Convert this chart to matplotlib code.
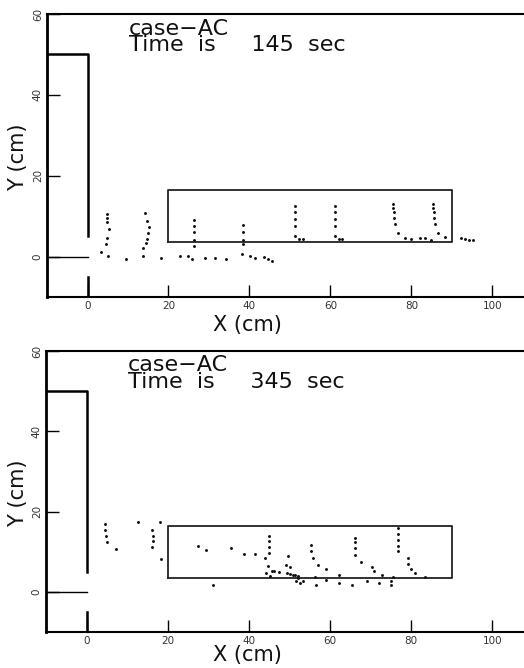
import numpy as np
import matplotlib
matplotlib.use('Agg')
import matplotlib.pyplot as plt

# particle positions (cm)
x145 = [4.8, 4.8, 4.8, 5.3, 4.8, 4.6, 5.0, 3.3,
        14.1, 14.6, 15.1, 15.0, 14.6, 14.4, 13.6, 13.6,
        9.5, 18.1, 22.9, 24.9, 25.7, 29.1, 31.6, 34.2, 38.1, 40.1, 41.3, 43.5, 44.6, 45.6,
        26.2, 26.2, 26.2, 26.2, 26.2,
        38.3, 38.3, 38.3, 38.3,
        51.2, 51.2, 51.2, 51.2, 51.2, 52.2, 53.1,
        61.2, 61.2, 61.2, 61.0, 61.2, 62.1, 62.8,
        75.4, 75.4, 75.6, 75.6, 76.0, 76.6, 78.3, 79.8, 82.2, 83.4, 84.8,
        85.4, 85.4, 85.5, 85.6, 85.8, 86.6, 88.2,
        92.2, 93.2, 94.2, 95.2]
y145 = [10.6, 9.55, 8.6, 6.8, 4.6, 3.2, 0.25, 1.2,
        10.8, 8.8, 7.2, 5.85, 4.4, 3.4, 2.1, 0.1,
        -0.7, -0.25, 0.1, 0.25, -0.7, -0.4, -0.4, -0.5, 0.74, 0.1, -0.4, -0.2, -0.6, -1.1,
        9.1, 7.65, 6.0, 4.2, 2.7,
        7.8, 6.0, 4.2, 3.0,
        12.4, 10.9, 9.4, 7.65, 5.2, 4.4, 4.4,
        12.4, 10.9, 9.4, 7.65, 5.2, 4.4, 4.4,
        13.1, 12.0, 10.9, 9.55, 8.0, 5.85, 4.5, 4.4, 4.7, 4.5, 4.2,
        13.1, 11.9, 10.9, 9.55, 8.1, 5.9, 4.85,
        4.5, 4.4, 4.2, 4.0]

x345 = [4.5, 4.5, 4.7, 5.0, 7.3, 12.6, 18.0,
        16.1, 16.4, 16.3, 16.2, 18.4,
        27.5, 29.5, 31.2, 35.6, 38.8, 41.5,
        45.0, 45.0, 45.0, 45.0, 43.9, 44.6, 44.1, 45.2, 45.7, 46.1, 47.3,
        49.6, 49.1, 50.0, 49.4, 50.2, 50.9, 51.4, 52.0, 52.2, 51.7, 52.7, 53.3,
        55.2, 55.2, 55.7, 57.0, 56.2, 56.5, 59.1, 59.1, 62.2, 62.2, 65.5,
        66.2, 66.2, 66.2, 66.2, 67.7, 70.2, 70.9, 72.9, 69.0, 72.1, 75.0, 75.4, 75.1,
        76.7, 76.7, 76.7, 76.7, 76.7, 79.2, 79.3, 80.0, 81.0, 83.3]
y345 = [17.0, 15.5, 13.9, 12.4, 10.7, 17.5, 17.3,
        15.5, 14.0, 12.6, 11.2, 8.2,
        11.3, 10.3, 1.7, 11.0, 9.4, 9.5,
        14.0, 12.6, 11.2, 9.8, 8.4, 6.4, 4.6, 4.0, 5.1, 5.2, 5.0,
        8.9, 6.7, 6.1, 4.8, 4.4, 4.2, 4.2, 4.0, 3.4, 2.7, 2.2, 2.7,
        11.6, 10.2, 8.5, 6.7, 3.6, 1.7, 5.6, 3.0, 4.2, 2.3, 1.7,
        13.5, 12.3, 10.8, 9.2, 7.4, 6.3, 5.1, 4.1, 2.8, 2.3, 2.8, 3.7, 1.7,
        16.0, 14.5, 13.0, 11.5, 10.2, 8.5, 6.9, 5.6, 4.6, 3.6]

times = ['145', '345']
case = 'case\u2212AC'

# geometry of the flume (cm)
wall_x = 0
wall_top = 50
gap = (-5, 5)
box_x = [20, 90, 90, 20, 20]
box_y = [3.5, 3.5, 16.5, 16.5, 3.5]
xticks = [0, 20, 40, 60, 80, 100]
yticks = [0, 20, 40, 60]

fig = plt.figure(figsize=(5.24, 6.68), dpi=100)
positions = [[0.0897, 0.5554, 0.912, 0.4237], [0.0878, 0.0539, 0.914, 0.4207]]
label_y = [(157, 325), (493, 655)]

for pos, t, xs, ys, ly in zip(positions, times, [x145, x345], [y145, y345], label_y):
    ax = fig.add_axes(pos)
    ax.set_xlim(-10, 108)
    ax.set_ylim(-10, 60)
    ax.spines['right'].set_visible(False)
    ax.spines['left'].set_linewidth(2.0)
    ax.spines['top'].set_linewidth(1.5)
    ax.spines['bottom'].set_linewidth(1.5)

    # wall / gate
    ax.plot([-10, wall_x, wall_x], [wall_top, wall_top, gap[1]], color='k', lw=1.8)
    ax.plot([wall_x, wall_x], [gap[0], -10], color='k', lw=1.8)
    ax.plot([-10, wall_x], [0, 0], color='k', lw=1.0)

    # measurement window
    ax.plot(box_x, box_y, color='#222222', lw=1.3)

    ax.plot(xs, ys, '.', color='#111111', ms=2.2)

    ax.set_xticks(xticks)
    ax.set_yticks(yticks)
    ax.tick_params(direction='in', length=9, width=1.0, labelsize=7.5,
                   labelcolor='#333333', pad=3)
    plt.setp(ax.get_yticklabels(), rotation=90, va='center')

    ax.text(10.2, 50.8, case + '\nTime  is     ' + t + '  sec', fontsize=16,
            va='baseline', ha='left', linespacing=0.78, color='#111111')

    fig.text(18 / 524, 1 - ly[0] / 668, 'Y (cm)', rotation=90, fontsize=15,
             ha='center', va='center', color='#111111')
    fig.text(247 / 524, 1 - ly[1] / 668, 'X (cm)', fontsize=15,
             ha='center', va='center', color='#111111')

fig.savefig('out.png', dpi=100)
